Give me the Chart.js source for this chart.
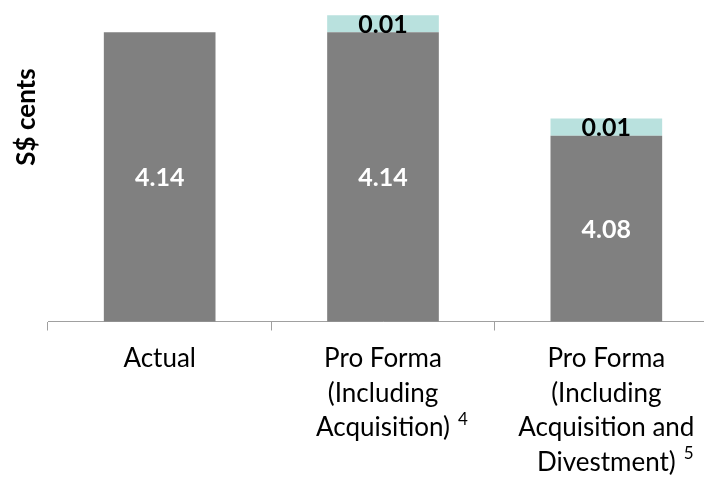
<!DOCTYPE html>
<html>
<head>
<meta charset="utf-8">
<script src="https://cdn.jsdelivr.net/npm/chart.js@4/dist/chart.umd.min.js"></script>
<style>
  html, body { margin: 0; padding: 0; background: #ffffff; overflow: hidden; }
  #wrap { width: 730px; height: 479px; }
</style>
</head>
<body>
<div id="wrap"><canvas id="dpu" width="730" height="479"></canvas></div>
<script>
// Category labels (multi-line) and their footnote markers
const categories = [
  ['Actual'],
  ['Pro Forma', '(Including', 'Acquisition)'],
  ['Pro Forma', '(Including', 'Acquisition and', 'Divestment)']
];
const footnotes = ['', '4', '5'];

// DPU in S$ cents
const baseDpu = [4.14, 4.14, 4.08];
const acquisitionUplift = [null, 0.01, 0.01];

const axisTitle = 'S$ cents';

const FONT = 'Lato, "Open Sans", sans-serif';
const TICK_SIZE = 26;
const TICK_LINE = 34.5;
const TICK_LEN = 9;
const TICK_PAD = 11;

// Value labels centred inside each bar segment
const segmentLabels = {
  id: 'segmentLabels',
  afterDatasetsDraw(chart) {
    const { ctx, chartArea } = chart;
    ctx.save();
    ctx.font = 'bold 25px ' + FONT;
    ctx.textAlign = 'center';
    ctx.textBaseline = 'middle';
    chart.data.datasets.forEach((ds, di) => {
      const meta = chart.getDatasetMeta(di);
      meta.data.forEach((bar, i) => {
        const v = ds.data[i];
        if (v === null || v === undefined) return;
        const top = Math.max(bar.y, chartArea.top);
        const bottom = Math.min(bar.base, chartArea.bottom);
        ctx.fillStyle = ds.labelColor;
        ctx.fillText(v.toFixed(2), bar.x, (top + bottom) / 2 + 1);
      });
    });
    ctx.restore();
  }
};

// Footnote superscripts after the last line of a category label, plus the value-axis title
const extras = {
  id: 'extras',
  afterDraw(chart) {
    const { ctx, chartArea } = chart;
    const xs = chart.scales.x;
    ctx.save();
    ctx.fillStyle = '#000000';
    categories.forEach((lines, i) => {
      const mark = footnotes[i];
      if (!mark) return;
      ctx.font = TICK_SIZE + 'px ' + FONT;
      const last = lines[lines.length - 1];
      const w = ctx.measureText(last).width;
      const cx = xs.getPixelForValue(i);
      const lineMid = xs.top + TICK_LEN + TICK_PAD + TICK_LINE / 2 + (lines.length - 1) * TICK_LINE;
      ctx.font = '17px ' + FONT;
      ctx.textAlign = 'left';
      ctx.textBaseline = 'alphabetic';
      ctx.fillText(mark, cx + w / 2 + 8, lineMid - 3);
    });

    ctx.font = 'bold 26px ' + FONT;
    ctx.translate(chartArea.left - 13, chartArea.top + 107);
    ctx.rotate(-Math.PI / 2);
    ctx.textAlign = 'center';
    ctx.textBaseline = 'alphabetic';
    ctx.fillText(axisTitle, 0, 0);
    ctx.restore();
  }
};

new Chart(document.getElementById('dpu'), {
  type: 'bar',
  data: {
    labels: categories,
    datasets: [
      {
        data: baseDpu,
        backgroundColor: '#808080',
        borderWidth: 0,
        labelColor: '#ffffff',
        categoryPercentage: 1,
        barPercentage: 0.5
      },
      {
        data: acquisitionUplift,
        backgroundColor: '#b9e1de',
        borderWidth: 0,
        labelColor: '#000000',
        categoryPercentage: 1,
        barPercentage: 0.5
      }
    ]
  },
  options: {
    responsive: false,
    animation: false,
    layout: { padding: { left: 48, right: 12, top: 10, bottom: 0 } },
    plugins: {
      legend: { display: false },
      tooltip: { enabled: false }
    },
    scales: {
      x: {
        stacked: true,
        offset: true,
        grid: {
          offset: true,
          drawOnChartArea: false,
          drawTicks: true,
          tickLength: TICK_LEN,
          color: '#a0a0a0',
          lineWidth: 1
        },
        border: { display: true, color: '#a0a0a0', width: 1 },
        ticks: {
          color: '#000000',
          padding: TICK_PAD,
          maxRotation: 0,
          autoSkip: false,
          font: { family: FONT, size: TICK_SIZE, lineHeight: TICK_LINE / TICK_SIZE }
        },
        afterFit(scale) { scale.height = 157.5; }
      },
      y: {
        stacked: true,
        display: false,
        min: 3.972,
        max: 4.153
      }
    }
  },
  plugins: [segmentLabels, extras]
});
</script>
</body>
</html>
